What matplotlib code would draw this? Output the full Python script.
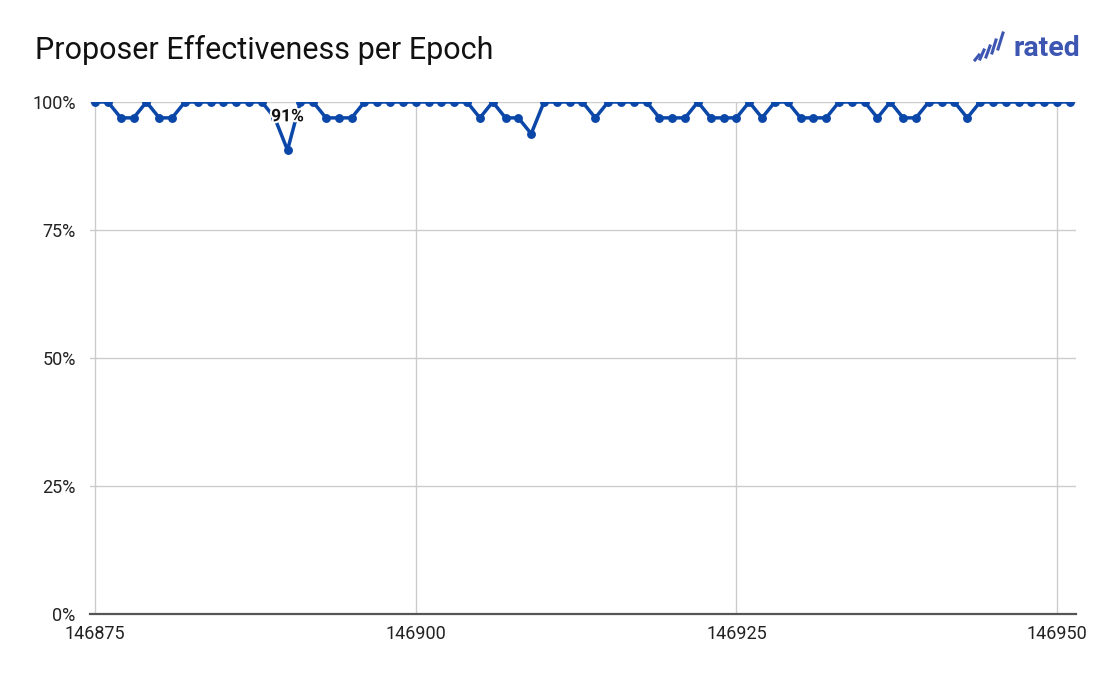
import matplotlib
matplotlib.use("Agg")
import matplotlib.pyplot as plt
import matplotlib.patheffects as pe
from matplotlib.lines import Line2D

plt.rcParams['font.family'] = ['Roboto', 'DejaVu Sans']

epoch_start = 146875
effectiveness = [
    100, 100, 96.9, 96.9, 100, 96.9, 96.9, 100, 100, 100,
    100, 100, 100, 100, 96.9, 90.6, 100, 100, 96.9, 96.9,
    96.9, 100, 100, 100, 100, 100, 100, 100, 100, 100,
    96.9, 100, 96.9, 96.9, 93.8, 100, 100, 100, 100, 96.9,
    100, 100, 100, 100, 96.9, 96.9, 96.9, 100, 96.9, 96.9,
    96.9, 100, 96.9, 100, 100, 96.9, 96.9, 96.9, 100, 100,
    100, 96.9, 100, 96.9, 96.9, 100, 100, 100, 96.9, 100,
    100, 100, 100, 100, 100, 100, 100,
]
epochs = [epoch_start + i for i in range(len(effectiveness))]
x_ticks = [146875, 146900, 146925, 146950]
y_ticks = [0, 25, 50, 75, 100]
y_tick_labels = ['0%', '25%', '50%', '75%', '100%']
label_epoch = 146890
label_text = '91%'

W, H = 1108, 676
fig = plt.figure(figsize=(W / 100, H / 100), dpi=100)
ax = fig.add_axes([89.5 / W, (H - 614) / H, (1076 - 89.5) / W, (614 - 102) / H])

blue = '#0b47a8'
ax.plot(epochs, effectiveness, color=blue, lw=2.5, marker='o', ms=6.4,
        markeredgewidth=0, zorder=3)

ax.set_xlim(146874.56, 146951.48)
ax.set_ylim(0, 100)
ax.set_xticks(x_ticks)
ax.set_xticklabels([str(t) for t in x_ticks])
ax.set_yticks(y_ticks)
ax.set_yticklabels(y_tick_labels)
ax.grid(True, color='#cccccc', lw=1)
ax.set_axisbelow(True)
for s in ['top', 'right', 'left']:
    ax.spines[s].set_visible(False)
ax.spines['bottom'].set_color('#555555')
ax.spines['bottom'].set_linewidth(1.6)
ax.tick_params(axis='both', length=0, labelsize=13, colors='#222222')
ax.tick_params(axis='y', pad=10)
ax.tick_params(axis='x', pad=8)

idx = epochs.index(label_epoch)
t = ax.annotate(label_text, (label_epoch, effectiveness[idx]), xytext=(0, 24),
                textcoords='offset points', ha='center', va='center',
                fontsize=12.5, fontweight='bold', color='#111111', zorder=5)
t.set_path_effects([pe.withStroke(linewidth=3, foreground='white')])

fig.text(35 / W, 1 - 50 / H, 'Proposer Effectiveness per Epoch', fontsize=22,
         color='#111111', va='center', ha='left')

# logo
logo_blue = '#3d56b2'
fig.text(1080 / W, 1 - 48 / H, 'rated', fontsize=20.5, fontweight='bold',
         color=logo_blue, ha='right', va='center')
strokes = [(975, 60, 979, 55), (980, 59, 984, 50), (986, 57, 990, 46),
           (992, 53, 996, 40), (998, 49, 1003, 33)]
for x0, y0, x1, y1 in strokes:
    fig.add_artist(Line2D([x0 / W, x1 / W], [1 - y0 / H, 1 - y1 / H],
                          color=logo_blue, lw=2.2, transform=fig.transFigure))

fig.savefig('out.png', dpi=100)
